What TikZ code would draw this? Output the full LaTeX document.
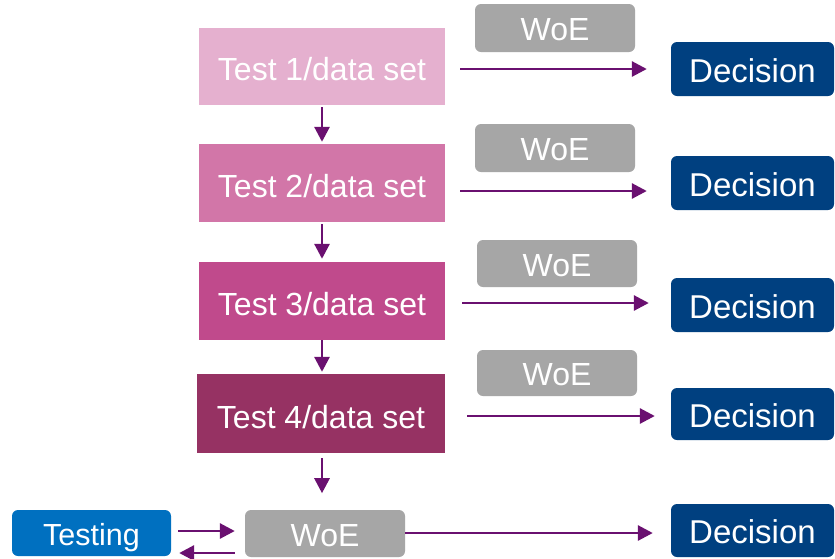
\documentclass[tikz,border=0pt]{standalone}
\usepackage{fontspec}
\setmainfont{Liberation Sans}
\usetikzlibrary{arrows.meta}
\definecolor{tOne}{HTML}{E5B0CF}
\definecolor{tTwo}{HTML}{D276A8}
\definecolor{tThree}{HTML}{C04A8C}
\definecolor{tFour}{HTML}{963263}
\definecolor{woegray}{HTML}{A6A6A6}
\definecolor{decblue}{HTML}{004080}
\definecolor{testblue}{HTML}{0070C0}
\definecolor{arrpurple}{HTML}{6A1070}
\newcommand\shiftedtext[2]{\raisebox{#1}[\height][0pt]{#2}}
\tikzset{
  box/.style={inner sep=0pt, text=white, font=\fontsize{32}{37}\selectfont, anchor=center},
  testbox/.style={box, minimum width=246pt, minimum height=78pt},
  woebox/.style={box, fill=woegray, rounded corners=6pt, minimum width=160pt, minimum height=47pt},
  decbox/.style={box, fill=decblue, rounded corners=6pt, minimum width=163pt, minimum height=54pt, font=\fontsize{33}{38}\selectfont},
  arr/.style={draw=arrpurple, line width=2.9pt, -{Triangle[length=15pt,width=15pt]}}
}
\begin{document}
\begin{tikzpicture}[x=1pt,y=-1pt]
\fill[white] (0,0) rectangle (835,558);
\useasboundingbox (0,0) rectangle (835,558);
% test boxes
\node[testbox, fill=tOne, minimum height=77pt] (t1) at (322,66.5) {\shiftedtext{-2.5pt}{Test 1/data set}};
\node[testbox, fill=tTwo] (t2) at (322,183) {\shiftedtext{-2.5pt}{Test 2/data set}};
\node[testbox, fill=tThree] (t3) at (322,301) {\shiftedtext{-2.5pt}{Test 3/data set}};
\node[testbox, fill=tFour, minimum width=248pt, minimum height=79pt] (t4) at (321,413.5) {\shiftedtext{-3pt}{Test 4/data set}};
% WoE boxes
\node[woebox, minimum height=48pt] (w1) at (555,28) {\shiftedtext{-1.5pt}{WoE}};
\node[woebox, minimum height=48pt] (w2) at (555,148) {\shiftedtext{-1.5pt}{WoE}};
\node[woebox] (w3) at (557,263.5) {\shiftedtext{-1.5pt}{WoE}};
\node[woebox, minimum height=46pt] (w4) at (557,373) {\shiftedtext{-1.5pt}{WoE}};
\node[woebox] (wb) at (325,533.5) {\shiftedtext{-1.5pt}{WoE}};
% decision boxes
\node[decbox] (d1) at (752.5,69) {\shiftedtext{-1.5pt}{Decision}};
\node[decbox] (d2) at (752.5,183) {\shiftedtext{-1.5pt}{Decision}};
\node[decbox] (d3) at (752.5,305) {\shiftedtext{-1.5pt}{Decision}};
\node[decbox, minimum height=52pt] (d4) at (752.5,414) {\shiftedtext{-1.5pt}{Decision}};
\node[decbox, minimum height=53pt] (db) at (752.5,530.5) {\shiftedtext{-1.5pt}{Decision}};
% testing
\node[box, fill=testblue, rounded corners=6pt, minimum width=159pt, minimum height=46pt, font=\fontsize{30.5}{35}\selectfont] (ts) at (91.5,533) {\shiftedtext{-1pt}{Testing}};
% vertical arrows
\draw[arr] ([yshift=-2pt]t1.south) -- ([yshift=2pt]t2.north);
\draw[arr] ([yshift=-2pt]t2.south) -- ([yshift=3pt]t3.north);
\draw[arr] (t3.south) -- ([yshift=2pt]t4.north -| t3.south);
\draw[arr] ([xshift=1pt,yshift=-5pt]t4.south) -- ([xshift=1pt,yshift=-40pt]t4.south);
% horizontal arrows
\draw[arr] ([xshift=15pt,yshift=-2.5pt]t1.east) -- ([xshift=-24pt]d1.west);
\draw[arr] ([xshift=15pt,yshift=-8pt]t2.east) -- ([xshift=-24pt,yshift=-8pt]d2.west);
\draw[arr] ([xshift=17pt,yshift=-2pt]t3.east) -- ([xshift=-22pt,yshift=2pt]d3.west);
\draw[arr] ([xshift=22pt,yshift=-2.5pt]t4.east) -- ([xshift=-16pt,yshift=-2pt]d4.west);
\draw[arr] ([yshift=0.5pt]wb.east) -- ([xshift=-18pt,yshift=-2.5pt]db.west);
% testing <-> WoE
\draw[arr] ([xshift=7pt,yshift=2pt]ts.east) -- ([xshift=-10pt,yshift=2.5pt]wb.west);
\draw[arr] ([xshift=-10pt,yshift=-19.5pt]wb.west) -- ([xshift=8pt,yshift=-20pt]ts.east);
\end{tikzpicture}
\end{document}
